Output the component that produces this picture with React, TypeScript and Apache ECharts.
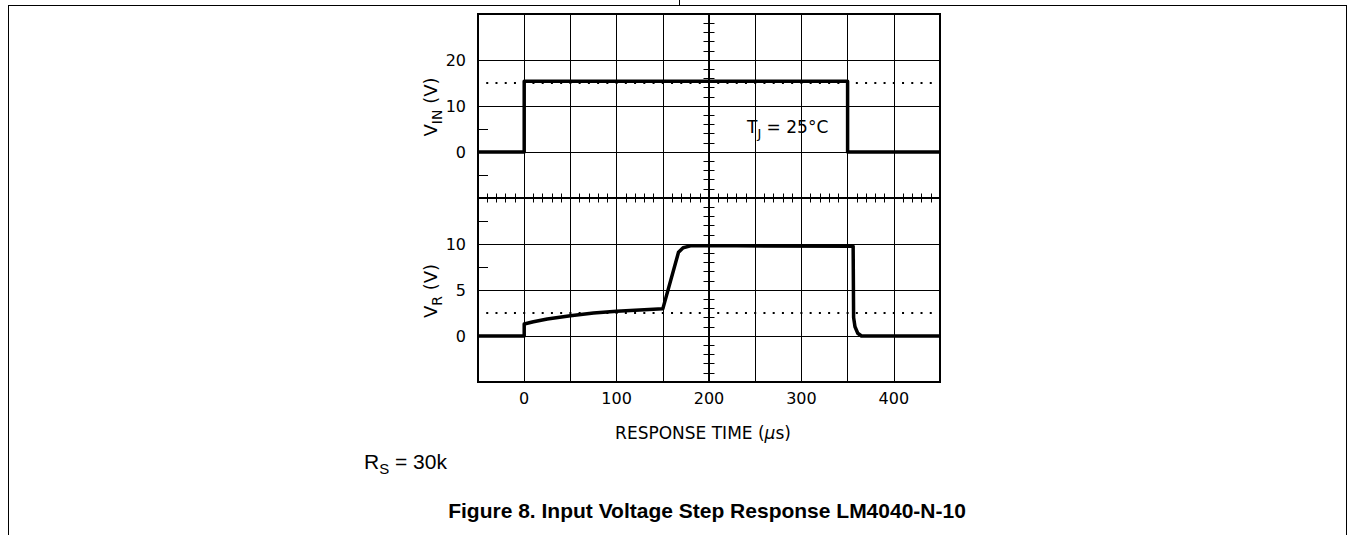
import React, { useEffect, useRef } from 'react';
import * as echarts from 'echarts';

// ---- data ----
const timeMin = -50;
const timeMax = 450;
const timeStep = 50;
const timeTickLabels = [0, 100, 200, 300, 400];

const vinTime = [-50, 0, 0, 350, 350, 450];
const vinVolt = [0, 0, 15.4, 15.4, 0, 0];
const vinMin = -10;
const vinMax = 30;
const vinStep = 10;
const vinTickLabels = [0, 10, 20];
const vinSideTicks = [-5, 5];
const vinRefLevel = 15;

const vrTime = [-50, 0, 0, 10, 25, 50, 75, 100, 125, 150, 167, 172, 180, 230, 356, 356.5, 358, 361, 365, 450];
const vrVolt = [0, 0, 1.3, 1.55, 1.85, 2.2, 2.5, 2.7, 2.82, 2.95, 9.1, 9.6, 9.8, 9.8, 9.75, 2.0, 1.0, 0.3, 0, 0];
const vrMin = -5;
const vrMax = 15;
const vrStep = 5;
const vrTickLabels = [0, 5, 10];
const vrSideTicks = [7.5, 12.5];
const vrRefLevel = 2.5;

const PLOT_FONT = 'DejaVu Sans';
const DOC_FONT = 'Liberation Sans';

export default function App() {
  const ref = useRef<HTMLDivElement>(null);

  useEffect(() => {
    if (!ref.current) return;
    const chart = echarts.init(ref.current, undefined, { renderer: 'svg' });

    const gridLeft = 478;
    const gridWidth = 462;
    const centerOffset = -gridWidth / 2;
    const black = '#000';

    const labelStyle = { fontFamily: PLOT_FONT, fontSize: 16, color: black };

    const xBase = {
      type: 'value',
      min: timeMin,
      max: timeMax,
      interval: timeStep,
      axisLine: { show: false, onZero: false },
      axisLabel: { show: false },
      axisTick: { show: false },
      splitLine: { show: false },
    };

    const yBase = (min: number, max: number, step: number, grid: number) => ({
      type: 'value',
      gridIndex: grid,
      min,
      max,
      interval: step,
      axisLine: { show: false, onZero: false },
      axisLabel: { show: false },
      axisTick: { show: false },
      splitLine: { show: false },
    });

    const centerAxis = (min: number, max: number, step: number, grid: number, inside: boolean) => ({
      ...yBase(min, max, step, grid),
      position: 'left',
      offset: centerOffset,
      axisLine: { show: true, onZero: false, lineStyle: { color: black, width: 1.6 } },
      axisTick: { show: true, inside, length: 5.5, lineStyle: { color: black, width: 1 } },
      minorTick: { show: true, splitNumber: 5, length: 5.5, lineStyle: { color: black, width: 1 } },
    });

    const labelAxis = (min: number, max: number, step: number, grid: number, labels: number[]) => ({
      ...yBase(min, max, step, grid),
      position: 'left',
      axisLabel: {
        show: true,
        margin: 12,
        ...labelStyle,
        formatter: (v: number) => (labels.includes(v) ? String(v) : ''),
      },
      splitLine: { show: true, lineStyle: { color: black, width: 1 } },
    });

    const sideTickAxis = (min: number, max: number, grid: number, ticks: number[]) => ({
      ...yBase(min, max, (max - min) / 8, grid),
      position: 'left',
      axisTick: { show: true, inside: true, length: 10, customValues: ticks, lineStyle: { color: black, width: 1 } },
    });

    const sub = (main: number, small: number, family: string) => ({
      m: { fontFamily: family, fontSize: main, fill: black, lineHeight: main + 9, verticalAlign: 'middle' },
      s: { fontFamily: family, fontSize: small, fill: black, lineHeight: small + 1, verticalAlign: 'bottom' },
      i: { fontFamily: family, fontSize: main, fill: black, fontStyle: 'italic', lineHeight: main + 9, verticalAlign: 'middle' },
    });

    const refLine = (level: number) => ({
      silent: true,
      symbol: 'none',
      label: { show: false },
      lineStyle: { color: black, width: 2, type: [2, 7.24], dashOffset: 1 },
      data: [{ yAxis: level }],
    });

    const option = {
      animation: false,
      grid: [
        { left: gridLeft, top: 14, width: gridWidth, height: 184, show: true, borderColor: black, borderWidth: 2, backgroundColor: 'transparent', outerBoundsMode: 'none' },
        { left: gridLeft, top: 198, width: gridWidth, height: 184, show: true, borderColor: black, borderWidth: 2, backgroundColor: 'transparent', outerBoundsMode: 'none' },
      ],
      xAxis: [
        {
          ...xBase,
          gridIndex: 0,
          position: 'bottom',
          splitLine: { show: true, lineStyle: { color: black, width: 1 } },
          axisTick: { show: true, inside: true, length: 4.5, lineStyle: { color: black, width: 1 } },
          minorTick: { show: true, splitNumber: 5, length: 4.5, lineStyle: { color: black, width: 1 } },
        },
        {
          ...xBase,
          gridIndex: 1,
          position: 'bottom',
          splitLine: { show: true, lineStyle: { color: black, width: 1 } },
          axisLabel: {
            show: true,
            margin: 8,
            ...labelStyle,
            formatter: (v: number) => (timeTickLabels.includes(v) ? String(v) : ''),
          },
        },
        {
          ...xBase,
          gridIndex: 1,
          position: 'top',
          axisTick: { show: true, inside: true, length: 4.5, lineStyle: { color: black, width: 1 } },
          minorTick: { show: true, splitNumber: 5, length: 4.5, lineStyle: { color: black, width: 1 } },
        },
      ],
      yAxis: [
        labelAxis(vinMin, vinMax, vinStep, 0, vinTickLabels),
        sideTickAxis(vinMin, vinMax, 0, vinSideTicks),
        centerAxis(vinMin, vinMax, vinStep, 0, true),
        centerAxis(vinMin, vinMax, vinStep, 0, false),
        labelAxis(vrMin, vrMax, vrStep, 1, vrTickLabels),
        sideTickAxis(vrMin, vrMax, 1, vrSideTicks),
        centerAxis(vrMin, vrMax, vrStep, 1, true),
        centerAxis(vrMin, vrMax, vrStep, 1, false),
      ],
      series: [
        {
          type: 'line',
          xAxisIndex: 0,
          yAxisIndex: 0,
          data: vinTime.map((t, i) => [t, vinVolt[i]]),
          symbol: 'none',
          showSymbol: false,
          lineStyle: { color: black, width: 3.5, join: 'round' },
          markLine: refLine(vinRefLevel),
          z: 5,
        },
        {
          type: 'line',
          xAxisIndex: 1,
          yAxisIndex: 4,
          data: vrTime.map((t, i) => [t, vrVolt[i]]),
          symbol: 'none',
          showSymbol: false,
          lineStyle: { color: black, width: 3.5, join: 'round' },
          markLine: refLine(vrRefLevel),
          z: 5,
        },
      ],
      graphic: [
        // page frame
        { type: 'line', shape: { x1: 8, y1: 5.5, x2: 1347, y2: 5.5 }, style: { stroke: black, lineWidth: 1 } },
        { type: 'line', shape: { x1: 8.5, y1: 5, x2: 8.5, y2: 535 }, style: { stroke: black, lineWidth: 1 } },
        { type: 'line', shape: { x1: 1346.5, y1: 5, x2: 1346.5, y2: 535 }, style: { stroke: black, lineWidth: 1 } },
        { type: 'line', shape: { x1: 679.5, y1: 0, x2: 679.5, y2: 6 }, style: { stroke: black, lineWidth: 1 } },
        // axis titles
        {
          type: 'text',
          x: 430,
          y: 107,
          rotation: Math.PI / 2,
          style: { text: '{m|V}{s|IN}{m| (V)}', rich: sub(18, 14, PLOT_FONT), align: 'center', verticalAlign: 'middle' },
        },
        {
          type: 'text',
          x: 430,
          y: 291,
          rotation: Math.PI / 2,
          style: { text: '{m|V}{s|R}{m| (V)}', rich: sub(18, 14, PLOT_FONT), align: 'center', verticalAlign: 'middle' },
        },
        {
          type: 'text',
          x: 703,
          y: 433,
          style: { text: '{m|RESPONSE TIME (}{i|μ}{m|s)}', rich: sub(17, 13, PLOT_FONT), align: 'center', verticalAlign: 'middle' },
        },
        {
          type: 'text',
          x: 747,
          y: 127,
          style: { text: '{m|T}{s|J}{m| = 25°C}', rich: sub(17, 13, PLOT_FONT), align: 'left', verticalAlign: 'middle' },
          z: 10,
        },
        {
          type: 'text',
          x: 364,
          y: 461,
          style: { text: '{m|R}{s|S}{m| = 30k}', rich: sub(21, 15, DOC_FONT), align: 'left', verticalAlign: 'middle' },
        },
        {
          type: 'text',
          x: 707,
          y: 510,
          style: {
            text: 'Figure 8. Input Voltage Step Response LM4040-N-10',
            fontFamily: DOC_FONT,
            fontSize: 21,
            fontWeight: 'bold',
            fill: black,
            align: 'center',
            verticalAlign: 'middle',
          },
        },
      ],
    };

    chart.setOption(option as any);
    return () => chart.dispose();
  }, []);

  return (
    <div
      ref={ref}
      style={{ position: 'fixed', left: 0, top: 0, width: 1353, height: 535, background: '#fff' }}
    />
  );
}
